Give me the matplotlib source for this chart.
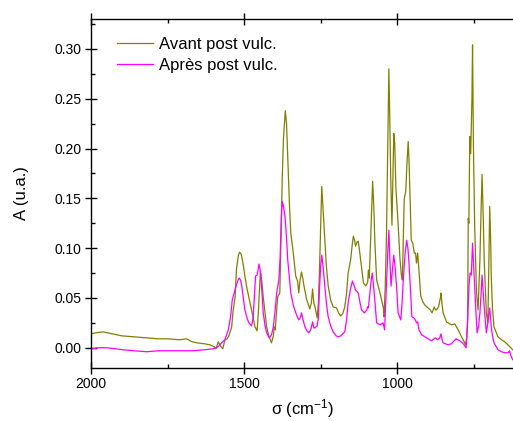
# IR spectra before / after post vulcanisation
# values

import numpy as np
import matplotlib.pyplot as plt


plt.rcParams['font.family'] = ['Liberation Sans', 'DejaVu Sans']
plt.rcParams['mathtext.fontset'] = 'custom'
plt.rcParams['mathtext.rm'] = 'Liberation Sans'
plt.rcParams['mathtext.it'] = 'Liberation Sans:italic'


######################################################################
# data
######################################################################
label_avant = 'Avant post vulc.'
label_apres = 'Après post vulc.'

wn_avant = [2000, 1985, 1961, 1930, 1900, 1860, 1818, 1780, 1750, 1710, 1688, 1670, 1655,
            1630, 1612, 1598, 1592, 1585, 1578, 1570, 1563, 1556, 1550, 1541, 1536, 1530,
            1525, 1519, 1515, 1510, 1504, 1498, 1490, 1481, 1472, 1465, 1458, 1454, 1451,
            1447, 1443, 1438, 1432, 1427, 1420, 1411, 1405, 1402, 1399, 1395, 1391, 1384,
            1380, 1376, 1372, 1366, 1362, 1357, 1352, 1348, 1340, 1332, 1326, 1322, 1318,
            1313, 1309, 1305, 1296, 1286, 1281, 1277, 1273, 1269, 1262, 1258, 1255, 1250,
            1247, 1243, 1237, 1232, 1226, 1218, 1210, 1199, 1192, 1186, 1179, 1172, 1166,
            1161, 1153, 1147, 1144, 1140, 1137, 1132, 1128, 1124, 1120, 1111, 1103, 1097,
            1095, 1092, 1087, 1081, 1077, 1074, 1068, 1057, 1052, 1046, 1044, 1040, 1036,
            1031, 1028, 1025, 1022, 1018, 1015, 1012, 1009, 1005, 998, 992, 987, 984, 981,
            978, 973, 969, 965, 962, 960, 955, 950, 945, 941, 938, 934, 930, 924, 917, 911,
            900, 893, 887, 880, 876, 873, 866, 860, 858, 855, 851, 840, 824, 813, 802, 791,
            784, 778, 774, 771, 769, 767, 764, 761, 757, 755, 752, 748, 742, 737, 731, 727,
            724, 720, 717, 710, 705, 702, 699, 696, 694, 690, 685, 672, 660, 650, 633, 624]
a_avant = [0.014, 0.015, 0.016, 0.014, 0.012, 0.011, 0.010, 0.009, 0.009, 0.008, 0.009, 0.006,
           0.005, 0.004, 0.003, 0.001, -0.001, 0.006, 0.002, -0.001, 0.008, 0.009, 0.012,
           0.021, 0.038, 0.050, 0.080, 0.093, 0.096, 0.094, 0.085, 0.072, 0.058, 0.045,
           0.032, 0.021, 0.017, 0.035, 0.055, 0.077, 0.068, 0.051, 0.035, 0.021, 0.012,
           0.005, 0.012, 0.021, 0.018, 0.035, 0.051, 0.055, 0.110, 0.170, 0.210, 0.238,
           0.225, 0.182, 0.140, 0.115, 0.095, 0.072, 0.067, 0.055, 0.068, 0.076, 0.070,
           0.062, 0.048, 0.039, 0.045, 0.059, 0.045, 0.041, 0.030, 0.045, 0.072, 0.130,
           0.162, 0.140, 0.108, 0.082, 0.062, 0.048, 0.041, 0.040, 0.035, 0.032, 0.034,
           0.041, 0.055, 0.075, 0.088, 0.105, 0.112, 0.108, 0.102, 0.106, 0.107, 0.098,
           0.088, 0.065, 0.062, 0.066, 0.078, 0.070, 0.115, 0.167, 0.140, 0.108, 0.068,
           0.055, 0.048, 0.040, 0.031, 0.060, 0.110, 0.220, 0.280, 0.230, 0.170, 0.123,
           0.170, 0.215, 0.205, 0.160, 0.125, 0.090, 0.072, 0.068, 0.110, 0.149, 0.157,
           0.185, 0.207, 0.185, 0.162, 0.108, 0.105, 0.095, 0.095, 0.085, 0.095, 0.078,
           0.052, 0.046, 0.043, 0.040, 0.038, 0.035, 0.041, 0.038, 0.038, 0.041, 0.050,
           0.055, 0.045, 0.035, 0.026, 0.023, 0.024, 0.018, 0.011, 0.007, 0.003, 0.010,
           0.028, 0.130, 0.125, 0.212, 0.195, 0.250, 0.304, 0.200, 0.122, 0.055, 0.038,
           0.088, 0.140, 0.174, 0.130, 0.088, 0.035, 0.025, 0.080, 0.142, 0.110, 0.072,
           0.040, 0.021, 0.011, 0.008, 0.006, 0.001, -0.002]

wn_apres = [2000, 1975, 1949, 1920, 1895, 1860, 1818, 1780, 1742, 1700, 1666, 1630, 1601,
            1585, 1574, 1563, 1552, 1545, 1539, 1530, 1524, 1517, 1512, 1508, 1503, 1498,
            1491, 1485, 1476, 1471, 1467, 1463, 1458, 1455, 1452, 1449, 1447, 1442, 1438,
            1432, 1427, 1418, 1411, 1405, 1400, 1394, 1387, 1383, 1379, 1376, 1372, 1367,
            1362, 1358, 1352, 1348, 1340, 1335, 1328, 1322, 1318, 1313, 1308, 1302, 1295,
            1289, 1283, 1277, 1273, 1269, 1262, 1258, 1255, 1251, 1247, 1243, 1237, 1232,
            1226, 1218, 1210, 1200, 1193, 1185, 1172, 1166, 1161, 1154, 1147, 1142, 1137,
            1128, 1122, 1117, 1108, 1100, 1098, 1095, 1090, 1085, 1082, 1078, 1074, 1068,
            1057, 1047, 1042, 1036, 1031, 1028, 1025, 1021, 1016, 1012, 1008, 1003, 998,
            989, 985, 981, 975, 970, 966, 963, 957, 953, 946, 940, 938, 934, 930, 921, 905,
            889, 876, 869, 862, 858, 854, 851, 835, 824, 815, 808, 797, 785, 776, 772, 769,
            766, 763, 759, 755, 751, 747, 743, 740, 735, 731, 727, 724, 720, 717, 710, 705,
            702, 699, 694, 690, 685, 672, 660, 650, 639, 634, 630, 624]
a_apres = [-0.001, 0.000, 0.000, -0.001, -0.002, -0.003, -0.004, -0.003, -0.003, -0.003,
           -0.003, -0.002, -0.001, 0.001, 0.005, 0.008, 0.018, 0.030, 0.048, 0.058, 0.065,
           0.070, 0.068, 0.062, 0.050, 0.038, 0.030, 0.025, 0.022, 0.030, 0.051, 0.072,
           0.073, 0.078, 0.084, 0.080, 0.075, 0.055, 0.035, 0.022, 0.015, 0.010, 0.013,
           0.021, 0.035, 0.055, 0.068, 0.090, 0.130, 0.147, 0.142, 0.132, 0.110, 0.088,
           0.068, 0.055, 0.043, 0.038, 0.032, 0.028, 0.030, 0.035, 0.028, 0.021, 0.017,
           0.015, 0.018, 0.026, 0.020, 0.020, 0.022, 0.030, 0.055, 0.080, 0.093, 0.082,
           0.062, 0.045, 0.031, 0.022, 0.016, 0.012, 0.011, 0.012, 0.016, 0.028, 0.045,
           0.058, 0.067, 0.063, 0.058, 0.055, 0.045, 0.038, 0.035, 0.038, 0.041, 0.040,
           0.055, 0.070, 0.075, 0.062, 0.048, 0.025, 0.023, 0.025, 0.018, 0.062, 0.100,
           0.118, 0.090, 0.062, 0.080, 0.093, 0.082, 0.062, 0.035, 0.028, 0.045, 0.068,
           0.095, 0.108, 0.100, 0.088, 0.055, 0.031, 0.030, 0.027, 0.025, 0.026, 0.018,
           0.013, 0.010, 0.007, 0.010, 0.008, 0.010, 0.014, 0.008, 0.005, 0.003, 0.004,
           0.007, 0.009, 0.007, 0.004, 0.000, 0.020, 0.045, 0.065, 0.075, 0.073, 0.105,
           0.080, 0.055, 0.030, 0.015, 0.022, 0.035, 0.055, 0.073, 0.055, 0.041, 0.015,
           0.025, 0.033, 0.040, 0.021, 0.012, 0.005, -0.002, -0.004, -0.005, -0.005,
           -0.003, -0.008, -0.012]


######################################################################
# plot
######################################################################
fig = plt.figure(figsize=(5.13, 4.21), dpi=100)
ax = fig.add_axes([0.1774, 0.1266, 0.8226, 0.8283])

ax.plot(wn_avant, a_avant, color='#808000', lw=0.9, label=label_avant)
ax.plot(wn_apres, a_apres, color='#ff00ff', lw=0.9, label=label_apres)

ax.set_xlim(2000, 623)
ax.set_ylim(-0.02, 0.33)
ax.set_xticks([2000, 1500, 1000])
ax.set_xticks([1750, 1250, 750], minor=True)
ax.set_yticks(np.arange(0, 0.31, 0.05))
ax.set_yticks(np.arange(0.025, 0.33, 0.05), minor=True)
ax.yaxis.set_major_formatter(plt.FormatStrFormatter('%.2f'))

ax.spines['right'].set_visible(False)
for s in ['left', 'bottom', 'top']:
    ax.spines[s].set_linewidth(1.0)

ax.tick_params(which='major', direction='inout', length=8, width=1.0,
               top=True, labelsize=10, pad=3)
ax.tick_params(which='minor', direction='in', length=3, width=1.0, top=True)

# the original cuts the x label at the bottom edge, keep it just inside
ax.set_xlabel('σ (cm$^{-1}$)', fontsize=12, labelpad=4)
ax.set_ylabel('A (u.a.)', fontsize=12, labelpad=18)

ax.legend(loc='upper left', bbox_to_anchor=(0.061, 0.948), frameon=False,
          fontsize=12, handlelength=2.2, handletextpad=0.35, labelspacing=0.33,
          borderpad=0, borderaxespad=0)

plt.savefig('out.png', dpi=100)
